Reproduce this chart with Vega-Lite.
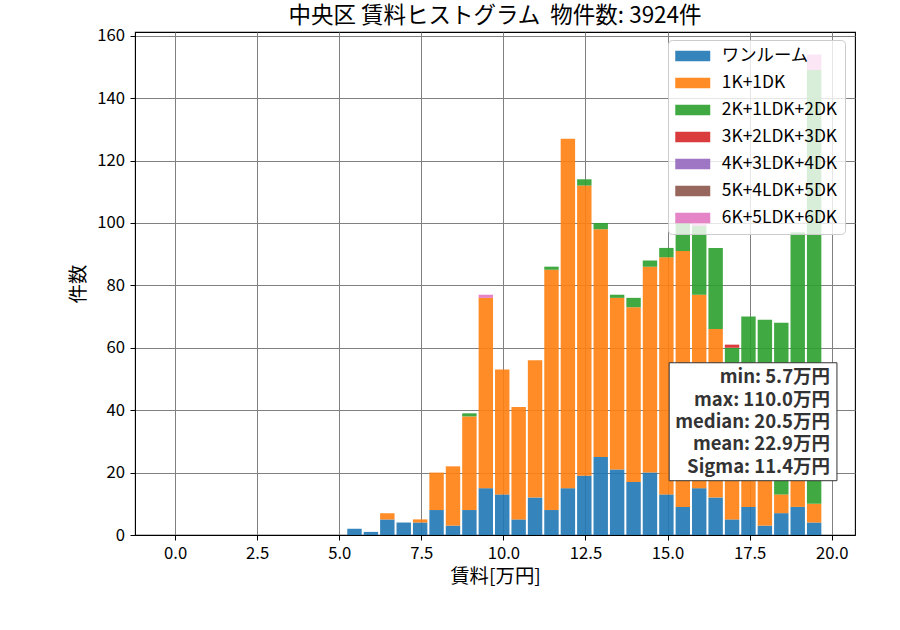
{
  "$schema": "https://vega.github.io/schema/vega-lite/v6.json",
  "width": 720,
  "height": 503,
  "autosize": {"type": "none"},
  "padding": {"left": 135, "top": 32, "right": 45, "bottom": 95},
  "title": {
    "text": "中央区 賃料ヒストグラム\u00a0 物件数: 3924件",
    "fontSize": 22.5,
    "fontWeight": "normal",
    "color": "black",
    "anchor": "middle",
    "offset": 0
  },
  "config": {
    "font": "Noto Sans CJK JP",
    "view": {"stroke": "black", "strokeWidth": 1.1},
    "axis": {
      "domainColor": "black",
      "tickColor": "black",
      "tickSize": 5,
      "grid": true,
      "gridColor": "#808080",
      "gridWidth": 1,
      "labelColor": "black",
      "labelFontSize": 16.7,
      "titleFontSize": 19.4,
      "titleFontWeight": "normal",
      "titleColor": "black",
      "labelPadding": 5.5
    }
  },
  "layer": [
    {
      "data": {
        "values": [
          {"lo": 5.2, "hi": 5.7, "type": "ワンルーム", "n": 2},
          {"lo": 5.7, "hi": 6.2, "type": "ワンルーム", "n": 1},
          {"lo": 6.2, "hi": 6.7, "type": "ワンルーム", "n": 5},
          {"lo": 6.2, "hi": 6.7, "type": "1K+1DK", "n": 2},
          {"lo": 6.7, "hi": 7.2, "type": "ワンルーム", "n": 4},
          {"lo": 7.2, "hi": 7.7, "type": "ワンルーム", "n": 4},
          {"lo": 7.2, "hi": 7.7, "type": "1K+1DK", "n": 1},
          {"lo": 7.7, "hi": 8.2, "type": "ワンルーム", "n": 8},
          {"lo": 7.7, "hi": 8.2, "type": "1K+1DK", "n": 12},
          {"lo": 8.2, "hi": 8.7, "type": "ワンルーム", "n": 3},
          {"lo": 8.2, "hi": 8.7, "type": "1K+1DK", "n": 19},
          {"lo": 8.7, "hi": 9.2, "type": "ワンルーム", "n": 8},
          {"lo": 8.7, "hi": 9.2, "type": "1K+1DK", "n": 30},
          {"lo": 8.7, "hi": 9.2, "type": "2K+1LDK+2DK", "n": 1},
          {"lo": 9.2, "hi": 9.7, "type": "ワンルーム", "n": 15},
          {"lo": 9.2, "hi": 9.7, "type": "1K+1DK", "n": 61},
          {"lo": 9.2, "hi": 9.7, "type": "6K+5LDK+6DK", "n": 1},
          {"lo": 9.7, "hi": 10.2, "type": "ワンルーム", "n": 13},
          {"lo": 9.7, "hi": 10.2, "type": "1K+1DK", "n": 40},
          {"lo": 10.2, "hi": 10.7, "type": "ワンルーム", "n": 5},
          {"lo": 10.2, "hi": 10.7, "type": "1K+1DK", "n": 36},
          {"lo": 10.7, "hi": 11.2, "type": "ワンルーム", "n": 12},
          {"lo": 10.7, "hi": 11.2, "type": "1K+1DK", "n": 44},
          {"lo": 11.2, "hi": 11.7, "type": "ワンルーム", "n": 8},
          {"lo": 11.2, "hi": 11.7, "type": "1K+1DK", "n": 77},
          {"lo": 11.2, "hi": 11.7, "type": "2K+1LDK+2DK", "n": 1},
          {"lo": 11.7, "hi": 12.2, "type": "ワンルーム", "n": 15},
          {"lo": 11.7, "hi": 12.2, "type": "1K+1DK", "n": 112},
          {"lo": 12.2, "hi": 12.7, "type": "ワンルーム", "n": 19},
          {"lo": 12.2, "hi": 12.7, "type": "1K+1DK", "n": 93},
          {"lo": 12.2, "hi": 12.7, "type": "2K+1LDK+2DK", "n": 2},
          {"lo": 12.7, "hi": 13.2, "type": "ワンルーム", "n": 25},
          {"lo": 12.7, "hi": 13.2, "type": "1K+1DK", "n": 73},
          {"lo": 12.7, "hi": 13.2, "type": "2K+1LDK+2DK", "n": 2},
          {"lo": 13.2, "hi": 13.7, "type": "ワンルーム", "n": 21},
          {"lo": 13.2, "hi": 13.7, "type": "1K+1DK", "n": 55},
          {"lo": 13.2, "hi": 13.7, "type": "2K+1LDK+2DK", "n": 1},
          {"lo": 13.7, "hi": 14.2, "type": "ワンルーム", "n": 17},
          {"lo": 13.7, "hi": 14.2, "type": "1K+1DK", "n": 56},
          {"lo": 13.7, "hi": 14.2, "type": "2K+1LDK+2DK", "n": 3},
          {"lo": 14.2, "hi": 14.7, "type": "ワンルーム", "n": 20},
          {"lo": 14.2, "hi": 14.7, "type": "1K+1DK", "n": 66},
          {"lo": 14.2, "hi": 14.7, "type": "2K+1LDK+2DK", "n": 2},
          {"lo": 14.7, "hi": 15.2, "type": "ワンルーム", "n": 13},
          {"lo": 14.7, "hi": 15.2, "type": "1K+1DK", "n": 76},
          {"lo": 14.7, "hi": 15.2, "type": "2K+1LDK+2DK", "n": 3},
          {"lo": 15.2, "hi": 15.7, "type": "ワンルーム", "n": 9},
          {"lo": 15.2, "hi": 15.7, "type": "1K+1DK", "n": 82},
          {"lo": 15.2, "hi": 15.7, "type": "2K+1LDK+2DK", "n": 10},
          {"lo": 15.7, "hi": 16.2, "type": "ワンルーム", "n": 15},
          {"lo": 15.7, "hi": 16.2, "type": "1K+1DK", "n": 62},
          {"lo": 15.7, "hi": 16.2, "type": "2K+1LDK+2DK", "n": 22},
          {"lo": 15.7, "hi": 16.2, "type": "6K+5LDK+6DK", "n": 1},
          {"lo": 16.2, "hi": 16.7, "type": "ワンルーム", "n": 12},
          {"lo": 16.2, "hi": 16.7, "type": "1K+1DK", "n": 54},
          {"lo": 16.2, "hi": 16.7, "type": "2K+1LDK+2DK", "n": 26},
          {"lo": 16.7, "hi": 17.2, "type": "ワンルーム", "n": 5},
          {"lo": 16.7, "hi": 17.2, "type": "1K+1DK", "n": 35},
          {"lo": 16.7, "hi": 17.2, "type": "2K+1LDK+2DK", "n": 20},
          {"lo": 16.7, "hi": 17.2, "type": "3K+2LDK+3DK", "n": 1},
          {"lo": 17.2, "hi": 17.7, "type": "ワンルーム", "n": 9},
          {"lo": 17.2, "hi": 17.7, "type": "1K+1DK", "n": 25},
          {"lo": 17.2, "hi": 17.7, "type": "2K+1LDK+2DK", "n": 36},
          {"lo": 17.7, "hi": 18.2, "type": "ワンルーム", "n": 3},
          {"lo": 17.7, "hi": 18.2, "type": "1K+1DK", "n": 20},
          {"lo": 17.7, "hi": 18.2, "type": "2K+1LDK+2DK", "n": 46},
          {"lo": 18.2, "hi": 18.7, "type": "ワンルーム", "n": 7},
          {"lo": 18.2, "hi": 18.7, "type": "1K+1DK", "n": 6},
          {"lo": 18.2, "hi": 18.7, "type": "2K+1LDK+2DK", "n": 55},
          {"lo": 18.7, "hi": 19.2, "type": "ワンルーム", "n": 9},
          {"lo": 18.7, "hi": 19.2, "type": "1K+1DK", "n": 12},
          {"lo": 18.7, "hi": 19.2, "type": "2K+1LDK+2DK", "n": 76},
          {"lo": 19.2, "hi": 19.7, "type": "ワンルーム", "n": 4},
          {"lo": 19.2, "hi": 19.7, "type": "1K+1DK", "n": 6},
          {"lo": 19.2, "hi": 19.7, "type": "2K+1LDK+2DK", "n": 139},
          {"lo": 19.2, "hi": 19.7, "type": "6K+5LDK+6DK", "n": 5}
        ]
      },
      "transform": [
        {"calculate": "indexof(['ワンルーム','1K+1DK','2K+1LDK+2DK','3K+2LDK+3DK','4K+3LDK+4DK','5K+4LDK+5DK','6K+5LDK+6DK'], datum.type)", "as": "k"}
      ],
      "mark": {"type": "bar", "binSpacing": 2, "opacity": 0.9},
      "encoding": {
        "x": {
          "field": "lo",
          "type": "quantitative",
          "bin": "binned",
          "scale": {"domain": [-1.22, 20.71], "nice": false, "zero": false},
          "axis": {
            "values": [0, 2.5, 5, 7.5, 10, 12.5, 15, 17.5, 20],
            "format": ".1f",
            "grid": true,
            "title": "賃料[万円]",
            "titlePadding": 5
          }
        },
        "x2": {"field": "hi"},
        "y": {
          "field": "n",
          "type": "quantitative",
          "stack": "zero",
          "scale": {"domain": [0, 161.2], "nice": false},
          "axis": {
            "values": [0, 20, 40, 60, 80, 100, 120, 140, 160],
            "title": "件数",
            "titlePadding": 8
          }
        },
        "order": {"field": "k", "type": "quantitative"},
        "color": {
          "field": "type",
          "type": "nominal",
          "sort": ["ワンルーム", "1K+1DK", "2K+1LDK+2DK", "3K+2LDK+3DK", "4K+3LDK+4DK", "5K+4LDK+5DK", "6K+5LDK+6DK"],
          "scale": {
            "domain": ["ワンルーム", "1K+1DK", "2K+1LDK+2DK", "3K+2LDK+3DK", "4K+3LDK+4DK", "5K+4LDK+5DK", "6K+5LDK+6DK"],
            "range": ["#1f77b4", "#ff7f0e", "#2ca02c", "#d62728", "#9467bd", "#8c564b", "#e377c2"]
          },
          "legend": {
            "title": null,
            "orient": "none",
            "legendX": 533,
            "legendY": 8,
            "symbolType": "M-2,-0.6H2V0.6H-2Z",
            "symbolSize": 306,
            "symbolOffset": 8.75,
            "symbolStrokeWidth": 0,
            "symbolOpacity": 0.9,
            "labelFontSize": 17.4,
            "labelColor": "black",
            "labelOffset": 20,
            "rowPadding": 9,
            "padding": 7,
            "fillColor": "rgba(255,255,255,0.8)",
            "strokeColor": "#cccccc",
            "cornerRadius": 4
          }
        }
      }
    },
    {
      "data": {"values": [{}]},
      "mark": {"type": "rect", "fill": "white", "stroke": "#333333", "strokeWidth": 1},
      "encoding": {
        "x": {"datum": 15.05},
        "x2": {"datum": 20.16},
        "y": {"datum": 55.2},
        "y2": {"datum": 17.4}
      }
    },
    {
      "data": {"values": [{}]},
      "mark": {
        "type": "text",
        "text": ["min: 5.7万円", "max: 110.0万円", "median: 20.5万円", "mean: 22.9万円", "Sigma: 11.4万円"],
        "align": "right",
        "baseline": "middle",
        "fontSize": 18.5,
        "fontWeight": "bold",
        "lineHeight": 22.3,
        "color": "#333333"
      },
      "encoding": {
        "x": {"datum": 19.95},
        "y": {"datum": 50.5}
      }
    }
  ]
}
